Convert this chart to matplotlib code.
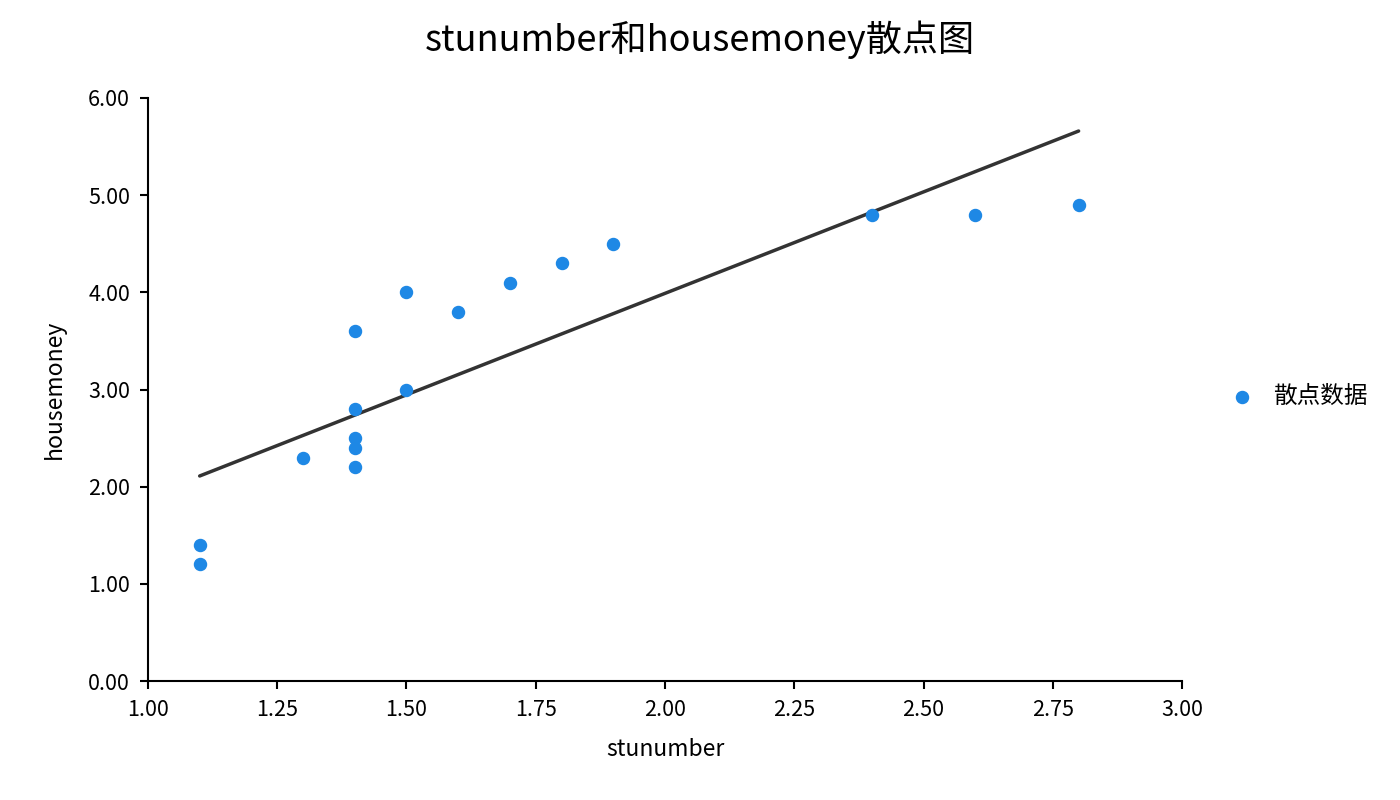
import matplotlib.pyplot as plt

plt.rcParams['font.family'] = ['Noto Sans CJK SC', 'DejaVu Sans']
plt.rcParams['axes.unicode_minus'] = False

# 数据
stunumber = [1.1, 1.1, 1.3, 1.4, 1.4, 1.4, 1.4, 1.4, 1.5, 1.5, 1.6, 1.7, 1.8, 1.9, 2.4, 2.6, 2.8]
housemoney = [1.4, 1.2, 2.3, 3.6, 2.8, 2.5, 2.4, 2.2, 4.0, 3.0, 3.8, 4.1, 4.3, 4.5, 4.8, 4.8, 4.9]
# 趋势线两端
line_x = [1.1, 2.8]
line_y = [2.11, 5.66]
x_ticks = [1.00, 1.25, 1.50, 1.75, 2.00, 2.25, 2.50, 2.75, 3.00]
y_ticks = [0, 1, 2, 3, 4, 5, 6]

fig = plt.figure(figsize=(14, 8), dpi=100)
ax = fig.add_axes([0.1057, 0.14875, 0.7386, 0.72875])

ax.scatter(stunumber, housemoney, s=75, color="#1E88E5", label="散点数据", zorder=3)
ax.plot(line_x, line_y, color="#333333", linewidth=2.5, solid_capstyle="round", zorder=2)

ax.set_xlim(1.0, 3.0)
ax.set_ylim(0, 6)
ax.set_xticks(x_ticks)
ax.set_xticklabels([f"{v:.2f}" for v in x_ticks])
ax.set_yticks(y_ticks)
ax.set_yticklabels([f"{v:.2f}" for v in y_ticks])
ax.tick_params(axis="both", labelsize=15.5, length=6, width=1.5, direction="out", pad=7)
for side in ["top", "right"]:
    ax.spines[side].set_visible(False)
for side in ["left", "bottom"]:
    ax.spines[side].set_linewidth(1.5)

ax.set_xlabel("stunumber", fontsize=16.5, labelpad=12)
ax.set_ylabel("housemoney", fontsize=16.5, labelpad=16)
fig.suptitle("stunumber和housemoney散点图", fontsize=26, y=0.975)

ax.legend(loc="center left", bbox_to_anchor=(1.015, 0.488), frameon=False, fontsize=17,
          handletextpad=0.3, markerscale=1.0)

plt.savefig("out.png", dpi=100)
